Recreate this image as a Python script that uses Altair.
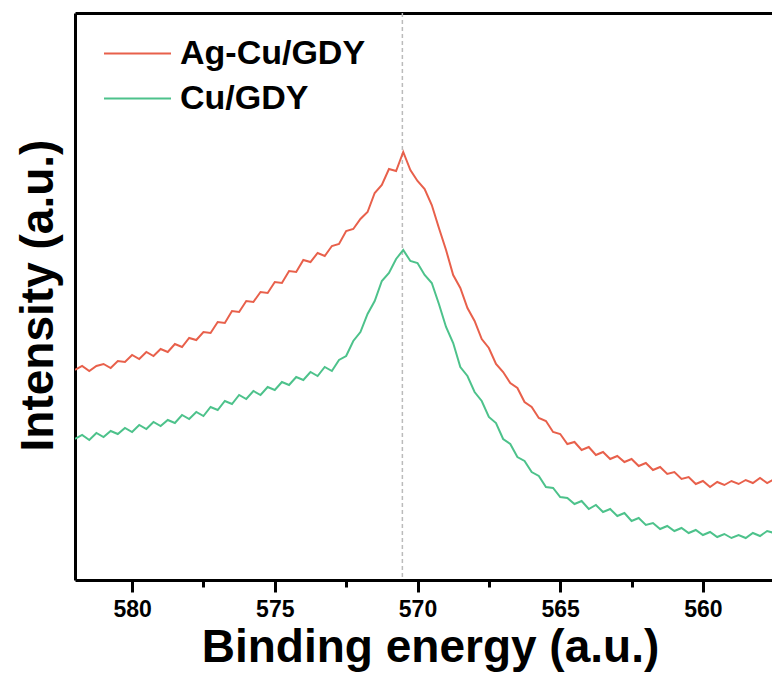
import altair as alt
import pandas as pd

# Binding energy grid (eV)
energy = [582.0, 581.75, 581.5, 581.25, 581.0, 580.75, 580.5, 580.25, 580.0, 579.75,
          579.5, 579.25, 579.0, 578.75, 578.5, 578.25, 578.0, 577.75, 577.5, 577.25,
          577.0, 576.75, 576.5, 576.25, 576.0, 575.75, 575.5, 575.25, 575.0, 574.75,
          574.5, 574.25, 574.0, 573.75, 573.5, 573.25, 573.0, 572.75, 572.5, 572.25,
          572.0, 571.75, 571.5, 571.25, 571.0, 570.75, 570.5, 570.25, 570.0, 569.75,
          569.5, 569.25, 569.0, 568.75, 568.5, 568.25, 568.0, 567.75, 567.5, 567.25,
          567.0, 566.75, 566.5, 566.25, 566.0, 565.75, 565.5, 565.25, 565.0, 564.75,
          564.5, 564.25, 564.0, 563.75, 563.5, 563.25, 563.0, 562.75, 562.5, 562.25,
          562.0, 561.75, 561.5, 561.25, 561.0, 560.75, 560.5, 560.25, 560.0, 559.75,
          559.5, 559.25, 559.0, 558.75, 558.5, 558.25, 558.0, 557.75, 557.5]

# Intensity (a.u.)
ag_cu_gdy = [210, 214, 209, 214, 216, 212, 219, 218, 225, 221,
             228, 224, 231, 228, 236, 233, 242, 240, 248, 247,
             258, 257, 269, 268, 279, 278, 288, 287, 298, 297,
             309, 308, 320, 318, 327, 324, 334, 336, 349, 351,
             361, 368, 387, 395, 411, 409, 428, 410, 399, 391,
             375, 352, 330, 305, 292, 272, 259, 241, 232, 216,
             208, 197, 192, 178, 173, 162, 159, 148, 146, 136,
             138, 130, 133, 125, 128, 121, 124, 118, 121, 114,
             117, 110, 113, 106, 108, 101, 103, 96, 99, 93,
             98, 95, 99, 96, 100, 97, 102, 97, 101]

cu_gdy = [141, 145, 140, 147, 143, 149, 146, 152, 148, 155,
          151, 158, 154, 160, 157, 165, 161, 168, 164, 173,
          170, 179, 176, 185, 181, 189, 185, 193, 190, 198,
          195, 203, 200, 208, 204, 213, 209, 220, 224, 239,
          248, 266, 279, 299, 307, 321, 330, 319, 317, 305,
          297, 276, 253, 237, 213, 204, 188, 179, 163, 157,
          141, 136, 123, 119, 108, 104, 93, 92, 83, 82,
          76, 79, 71, 75, 68, 71, 64, 67, 59, 62,
          55, 57, 51, 54, 49, 52, 47, 50, 45, 48,
          43, 46, 42, 45, 42, 47, 44, 49, 47]

series_names = ["Ag-Cu/GDY", "Cu/GDY"]
series_colors = ["#E8604B", "#4DC28B"]

peak_line = [570.53]
major_ticks = [580, 575, 570, 565, 560]
minor_ticks = [577.5, 572.5, 567.5, 562.5]

rows = []
for e, v in zip(energy, ag_cu_gdy):
    rows.append({"energy": e, "intensity": v, "series": series_names[0]})
for e, v in zip(energy, cu_gdy):
    rows.append({"energy": e, "intensity": v, "series": series_names[1]})
df = pd.DataFrame(rows)
vdf = pd.DataFrame({"e": peak_line})

FONT = "Liberation Sans"
xscale = alt.Scale(domain=[557.58, 582.0], reverse=True, nice=False, zero=False)
yscale = alt.Scale(domain=[0, 567], nice=False, zero=False)

major_axis = alt.Axis(
    orient="bottom",
    values=major_ticks, grid=False, domain=True, domainColor="black", domainWidth=3,
    ticks=True, tickColor="black", tickWidth=3, tickSize=12,
    labels=True, labelFont=FONT, labelFontSize=23, labelFontWeight="bold",
    labelColor="black", labelPadding=6, labelFlush=False,
    title="Binding energy (a.u.)", titleFont=FONT, titleFontSize=46,
    titleFontWeight="bold", titleColor="black", titleX=355, titleY=81,
    titleAlign="center", titleBaseline="alphabetic",
)
minor_axis = alt.Axis(
    orient="bottom",
    values=minor_ticks, grid=False, domain=False, ticks=True, tickColor="black",
    tickWidth=3, tickSize=7, labels=False, title=None,
)
top_axis = alt.Axis(
    orient="top", grid=False, domain=True, domainColor="black", domainWidth=3,
    ticks=False, labels=False, title=None,
)
yaxis = alt.Axis(
    orient="left",
    grid=False, domain=True, domainColor="black", domainWidth=3, ticks=False,
    labels=False, title="Intensity (a.u.)", titleFont=FONT, titleFontSize=46,
    titleFontWeight="bold", titleColor="black", titleX=-37, titleY=282,
    titleAngle=270, titleAlign="center", titleBaseline="middle",
)

lines = alt.Chart(df).mark_line(strokeWidth=2, clip=True).encode(
    x=alt.X("energy:Q", scale=xscale, axis=major_axis),
    y=alt.Y("intensity:Q", scale=yscale, axis=yaxis),
    color=alt.Color(
        "series:N",
        scale=alt.Scale(domain=series_names, range=series_colors),
        sort=series_names,
        legend=alt.Legend(
            orient="none", legendX=28, legendY=22, title=None,
            symbolType="stroke", symbolSize=4489, symbolStrokeWidth=2,
            labelFont=FONT, labelFontSize=34, labelFontWeight="bold",
            labelColor="black", labelOffset=8, rowPadding=8, labelLimit=500,
            clipHeight=37,
        ),
    ),
)

vline = alt.Chart(vdf).mark_rule(color="#BBBBBB", strokeDash=[4, 3], strokeWidth=1.5).encode(
    x=alt.X("e:Q", scale=xscale, axis=minor_axis),
)

topline = alt.Chart(vdf).mark_rule(opacity=0).encode(
    x=alt.X("e:Q", scale=xscale, axis=top_axis),
)

chart = alt.layer(vline, lines, topline).resolve_axis(x="independent").properties(
    width=697, height=567,
    autosize=alt.AutoSizeParams(type="none"),
    padding={"left": 75, "top": 13, "right": 0, "bottom": 93},
).configure_view(stroke=None).configure(background="white")

chart.save("out.html", embed_options={"renderer": "svg", "actions": False})
